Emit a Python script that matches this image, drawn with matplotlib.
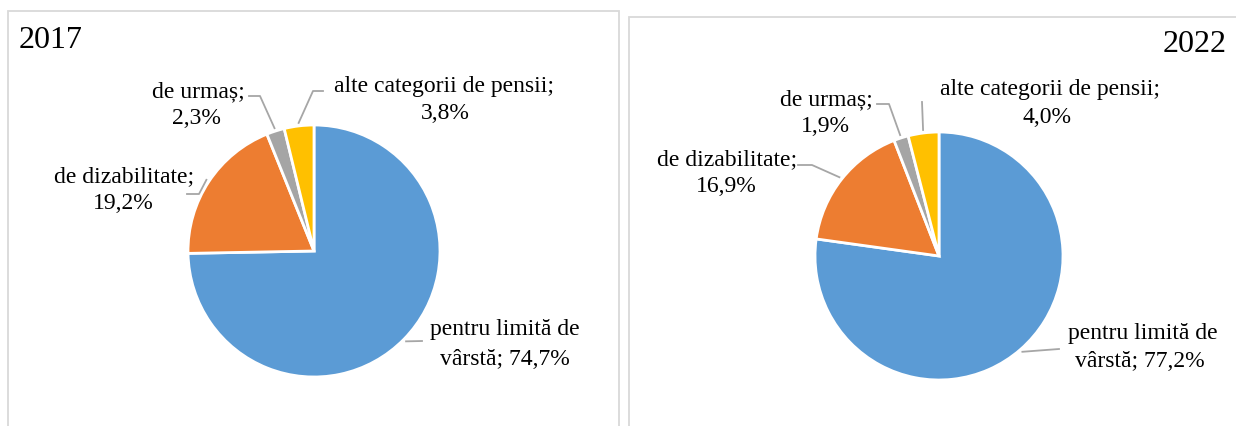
import numpy as np
import matplotlib
matplotlib.use("Agg")
import matplotlib.pyplot as plt
from matplotlib.patches import Rectangle

# Chart data
categories = ["pentru limită de vârstă", "de dizabilitate", "de urmaș", "alte categorii de pensii"]
years = ["2017", "2022"]
shares_2017 = [74.7, 19.2, 2.3, 3.8]
shares_2022 = [77.2, 16.9, 1.9, 4.0]
colors = ["#5B9BD5", "#ED7D31", "#A5A5A5", "#FFC000"]

W, H = 1236, 426
FONT = "Liberation Serif"

# Layout in image pixels (y measured from the top)
panels = [(7.5, 11, 611, 430), (629, 17, 620, 430)]
pie_centers = [(314, 251), (939, 256)]
pie_radius = [126, 124]
title_pos = [(19, 48, "left"), (1227, 52, "right")]
# (x line1, baseline line1, x line2, baseline line2) per slice
label_pos = [
    [(505, 335, 504.5, 365), (124.5, 182, 123.5, 209), (198, 97, 196, 124), (444, 92, 445, 119)],
    [(1142.5, 339, 1139.5, 367), (727, 165, 726.5, 192), (826, 105, 825.5, 132), (1050, 95, 1047, 123)],
]
# leader points near label, pie end is computed from the wedge
leader_pts = [
    [[(422, 341)], [(187, 194), (199, 194)], [(249, 96), (260, 96)], [(323, 91), (313, 91)]],
    [[(1059, 349)], [(798, 165), (812, 165)], [(877, 104), (889, 104)], [(922, 102)]],
]


def fy(y):
    return H - y


def split_label(cat, value):
    pct = f"{value:.1f}%".replace(".", ",")
    if cat.startswith("pentru"):
        words = cat.split()
        return " ".join(words[:-1]), f"{words[-1]}; {pct}"
    return f"{cat};", pct


fig = plt.figure(figsize=(W / 100, H / 100), dpi=100)
ax = fig.add_axes([0, 0, 1, 1])

for i, vals in enumerate([shares_2017, shares_2022]):
    # panel border
    px, py, pw, ph = panels[i]
    ax.add_patch(Rectangle((px, fy(py) - ph), pw, ph, fill=False,
                           edgecolor="#D9D9D9", linewidth=1.3, clip_on=False))

    cx, cy = pie_centers[i]
    r = pie_radius[i]
    wedges, _ = ax.pie(vals, colors=colors, startangle=90, counterclock=False,
                       center=(cx, fy(cy)), radius=r, frame=True,
                       wedgeprops=dict(edgecolor="white", linewidth=2))

    for j, w in enumerate(wedges):
        # label text
        l1, l2 = split_label(categories[j], vals[j])
        x1, b1, x2, b2 = label_pos[i][j]
        ax.text(x1, fy(b1), l1, ha="center", va="baseline", fontsize=17, family=FONT)
        ax.text(x2, fy(b2), l2, ha="center", va="baseline", fontsize=17, family=FONT)

        # leader line to the middle of the wedge
        mid = np.deg2rad((w.theta1 + w.theta2) / 2)
        ex = cx + (r + 3) * np.cos(mid)
        ey = fy(cy) + (r + 3) * np.sin(mid)
        xs = [p[0] for p in leader_pts[i][j]] + [ex]
        ys = [fy(p[1]) for p in leader_pts[i][j]] + [ey]
        ax.plot(xs, ys, color="#A6A6A6", linewidth=1.3)

    tx, ty, tha = title_pos[i]
    ax.text(tx, fy(ty), years[i], ha=tha, va="baseline", fontsize=23, family=FONT)

ax.set_xlim(0, W)
ax.set_ylim(0, H)
ax.axis("off")

plt.savefig("out.png", dpi=100)
plt.close()
